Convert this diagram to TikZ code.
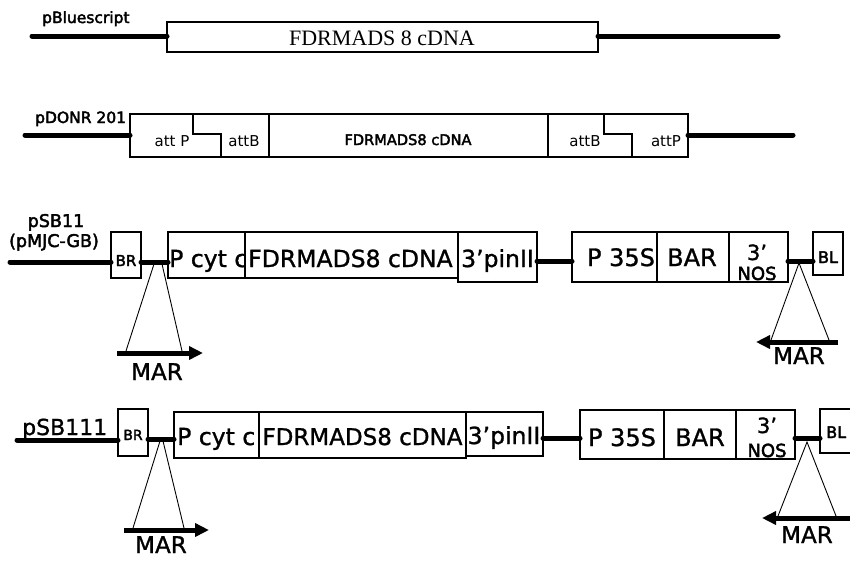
\documentclass[tikz,border=0pt]{standalone}
\usepackage{fontspec}
\setmainfont[FakeBold=1.2]{DejaVu Sans}
\newfontfamily\plainfont{DejaVu Sans}
\newfontfamily\timesfont{Liberation Serif}
\newfontfamily\medfont[FakeBold=2.6]{DejaVu Sans}
\usetikzlibrary{arrows.meta}
\newcommand{\fsz}[1]{\fontsize{#1}{#1}\selectfont}

\begin{document}
\begin{tikzpicture}[x=1pt,y=-1pt,
  seg/.style={draw, line width=1.2pt, inner sep=0pt, outer sep=0pt, anchor=north west},
  dna/.style={line width=5pt, line cap=round},
  marline/.style={line width=0.9pt},
  mar/.style={line width=5pt, -{Triangle[length=14pt,width=13pt]}},
  lbl/.style={inner sep=0pt, anchor=base},
  lblw/.style={inner sep=0pt, anchor=base west},
]
\useasboundingbox (0,0) rectangle (850,563);
\clip (0,0) rectangle (850,563);

% ---------- pBluescript ----------
\coordinate (r1a) at (32,36);
\coordinate (r1b) at (778,36);
\node[seg, minimum width=431, minimum height=30] (bs) at (167,22) {};
\node[lbl, font=\timesfont\fsz{22}] (bsT) at (382,45) {FDRMADS 8 cDNA};
\node[lblw, font=\medfont\fsz{15.5}] (bsN) at (42,23) {pBluescript};
\draw[dna] (r1a) -- (r1a -| bs.west);
\draw[dna] (r1b -| bs.east) -- (r1b);

% ---------- pDONR 201 ----------
\coordinate (r2a) at (25,135);
\coordinate (r2b) at (793,135);
\node[seg, minimum width=558, minimum height=43] (donr) at (130,114) {};
\node[seg, minimum width=279, minimum height=43] (cd2) at (269,114) {};
\draw[line width=1.2pt] (193,114) -- (193,134) -- (221,134) -- (221,157);
\draw[line width=1.2pt] (604,114) -- (604,134) -- (632,134) -- (632,157);
\draw[dna] (r2a) -- (r2a -| donr.west);
\draw[dna] (r2b -| donr.east) -- (r2b);
\node[lblw, font=\medfont\fsz{15.5}] (dnN) at (35,123) {pDONR 201};
\node[lbl, font=\plainfont\fsz{15}] (a1) at (172,146) {att P};
\node[lbl, font=\plainfont\fsz{15}] (a2) at (244,146) {attB};
\node[lbl, font=\medfont\fsz{14.6}] (cdT) at (408,145) {FDRMADS8 cDNA};
\node[lbl, font=\plainfont\fsz{15}] (a3) at (585,146) {attB};
\node[lbl, font=\plainfont\fsz{15}] (a4) at (666,146) {attP};

% ---------- pSB11 ----------
\node[seg, minimum width=30, minimum height=46] (BR3) at (111,232) {};
\node[seg, minimum width=77, minimum height=46] (Pc3) at (168,232) {};
\node[seg, minimum width=213, minimum height=46] (FD3) at (245,232) {};
\node[seg, minimum width=79, minimum height=50] (pi3) at (458,232) {};
\node[seg, minimum width=85, minimum height=50] (PS3) at (572,232) {};
\node[seg, minimum width=72, minimum height=50] (BA3) at (657,232) {};
\node[seg, minimum width=59, minimum height=50] (NO3) at (729,232) {};
\node[seg, minimum width=30, minimum height=43] (BL3) at (813,232) {};

\coordinate (r3a) at (10,262);
\coordinate (y3) at (0,262);
\coordinate (y3b) at (0,261);
\draw[dna] (r3a) -- (r3a -| BR3.west);
\draw[dna] (BR3.east |- y3) -- (Pc3.west |- y3);
\draw[dna] (pi3.east |- y3b) -- (PS3.west |- y3b);
\draw[dna] (NO3.east |- y3b) -- (BL3.west |- y3b);

\node[lbl, font=\medfont\fsz{17.5}] (sbN) at (56,227) {pSB11};
\node[lbl, font=\medfont\fsz{17.5}] (sbN2) at (54,247) {(pMJC-GB)};
\node[lbl, font=\medfont\fsz{15}] (BR3T) at (126,266) {BR};
\node[lblw, font=\fsz{23.5}] (Pc3T) at (169,267) {P cyt c};
\node[lbl, font=\fsz{23.5}] (FD3T) at (350.5,267) {FDRMADS8 cDNA};
\node[lbl, font=\fsz{23.5}] (pi3T) at (497.5,267) {3’pinII};
\node[lbl, font=\fsz{24}] (PS3T) at (621,266) {P 35S};
\node[lbl, font=\fsz{24}] (BA3T) at (692,266) {BAR};
\node[lbl, font=\fsz{21}] (NO3a) at (757,260) {3’};
\node[lbl, font=\medfont\fsz{18}] (NO3b) at (757,280) {NOS};
\node[lbl, font=\medfont\fsz{16}] (BL3T) at (828,263) {BL};

% MAR insert, left
\coordinate (m3a) at (154,264);
\coordinate (m3b) at (162,264);
\coordinate (m3c) at (126,351);
\coordinate (m3d) at (182,351);
\draw[marline] (m3a) -- (m3c);
\draw[marline] (m3b) -- (m3d);
\coordinate (m3s) at (117,353);
\coordinate (m3e) at (203,353);
\draw[mar] (m3s) -- (m3e);
\node[lbl, font=\fsz{23}] (m3T) at (157,380) {MAR};

% MAR insert, right
\coordinate (n3a) at (799,263);
\coordinate (n3c) at (771,340);
\coordinate (n3d) at (829,340);
\draw[marline] (n3c) -- (n3a) -- (n3d);
\coordinate (n3s) at (838,342);
\coordinate (n3e) at (756,342);
\draw[mar] (n3s) -- (n3e);
\node[lbl, font=\fsz{23}] (n3T) at (799,364) {MAR};

% ---------- pSB111 ----------
\node[seg, minimum width=30, minimum height=47] (BR4) at (118,409) {};
\node[seg, minimum width=85, minimum height=46] (Pc4) at (174,412) {};
\node[seg, minimum width=207, minimum height=46] (FD4) at (259,412) {};
\node[seg, minimum width=77, minimum height=44] (pi4) at (466,412) {};
\node[seg, minimum width=84, minimum height=49] (PS4) at (580,410) {};
\node[seg, minimum width=72, minimum height=49] (BA4) at (664,410) {};
\node[seg, minimum width=59, minimum height=49] (NO4) at (736,410) {};
\node[seg, minimum width=50, minimum height=44] (BL4) at (820,409) {};

\coordinate (r4a) at (17,440);
\coordinate (y4) at (0,439);
\coordinate (y4b) at (0,438);
\draw[dna] (r4a) -- (r4a -| BR4.west);
\draw[dna] (BR4.east |- y4) -- (Pc4.west |- y4);
\draw[dna] (pi4.east |- y4b) -- (PS4.west |- y4b);
\draw[dna] (NO4.east |- y4b) -- (BL4.west |- y4b);

\node[lblw, font=\fsz{22}] (sb4N) at (22,435) {pSB111};
\node[lbl, font=\medfont\fsz{14}] (BR4T) at (133,440) {BR};
\node[lblw, font=\fsz{23.5}] (Pc4T) at (177,445) {P cyt c};
\node[lbl, font=\fsz{23}] (FD4T) at (362.5,445) {FDRMADS8 cDNA};
\node[lbl, font=\fsz{23.5}] (pi4T) at (504,444) {3’pinII};
\node[lbl, font=\fsz{24}] (PS4T) at (622,446) {P 35S};
\node[lbl, font=\fsz{24}] (BA4T) at (700,446) {BAR};
\node[lbl, font=\fsz{21}] (NO4a) at (767,433) {3’};
\node[lbl, font=\medfont\fsz{18}] (NO4b) at (767,457) {NOS};
\node[lblw, font=\medfont\fsz{16}] (BL4T) at (826,438) {BL};

% MAR insert, left
\coordinate (m4a) at (160,441);
\coordinate (m4b) at (163,441);
\coordinate (m4c) at (133,528);
\coordinate (m4d) at (184,528);
\draw[marline] (m4a) -- (m4c);
\draw[marline] (m4b) -- (m4d);
\coordinate (m4s) at (124,530);
\coordinate (m4e) at (209,530);
\draw[mar] (m4s) -- (m4e);
\node[lbl, font=\fsz{23}] (m4T) at (161,553) {MAR};

% MAR insert, right
\coordinate (n4a) at (807,442);
\coordinate (n4c) at (778,516);
\coordinate (n4d) at (836,516);
\draw[marline] (n4c) -- (n4a) -- (n4d);
\coordinate (n4s) at (850,518);
\coordinate (n4e) at (762,518);
\draw[mar] (n4s) -- (n4e);
\node[lbl, font=\fsz{23}] (n4T) at (807,543) {MAR};
\end{tikzpicture}
\end{document}
